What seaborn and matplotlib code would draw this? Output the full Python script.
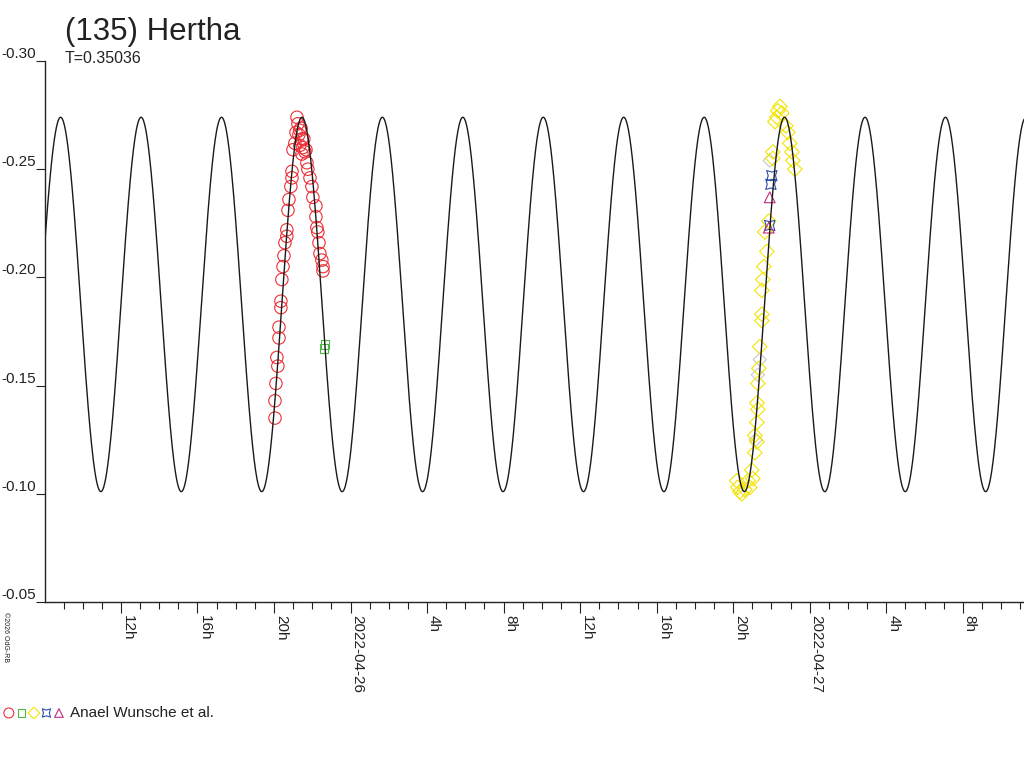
import numpy as np
import matplotlib
matplotlib.use('Agg')
import matplotlib.pyplot as plt
from matplotlib.legend_handler import HandlerTuple
from matplotlib.ticker import MultipleLocator
import seaborn as sns

# times in hours since 2022-04-25 00:00 UT, values = relative magnitude
red_t = [20.05, 20.05, 20.10, 20.20, 20.15, 20.26, 20.26, 20.36, 20.36, 20.41,
         20.47, 20.52, 20.57, 20.67, 20.67, 20.73, 20.78, 20.88, 20.94, 20.94,
         20.99, 21.09, 21.15, 21.20, 21.25, 21.30, 21.35, 21.41, 21.46, 21.35,
         21.51, 21.56, 21.62, 21.67, 21.46, 21.72, 21.77, 21.88, 21.98, 22.03,
         22.19, 22.19, 22.24, 22.29, 22.35, 22.40, 22.50, 22.56, 22.56]
red_mag = [-0.135, -0.143, -0.151, -0.159, -0.163, -0.172, -0.177, -0.186, -0.189, -0.199,
           -0.205, -0.210, -0.216, -0.219, -0.222, -0.231, -0.236, -0.242, -0.246, -0.249,
           -0.259, -0.262, -0.267, -0.274, -0.271, -0.266, -0.268, -0.269, -0.264, -0.261,
           -0.260, -0.264, -0.258, -0.259, -0.257, -0.253, -0.250, -0.246, -0.242, -0.237,
           -0.233, -0.228, -0.223, -0.221, -0.216, -0.211, -0.208, -0.205, -0.203]

green_t = [22.66, 22.61]
green_mag = [-0.169, -0.167]

yellow_t = [44.19, 44.24, 44.35, 44.45, 44.61, 44.77, 44.87, 45.03, 44.97, 45.13,
            45.24, 45.13, 45.24, 45.29, 45.24, 45.29, 45.34, 45.39, 45.50, 45.50,
            45.50, 45.55, 45.60, 45.76, 45.65, 45.86, 46.07, 46.07, 46.18, 46.28,
            46.33, 46.44, 46.54, 46.75, 46.86, 46.96, 47.07, 47.12, 47.22]
yellow_mag = [-0.106, -0.103, -0.101, -0.100, -0.102, -0.106, -0.103, -0.107, -0.111, -0.119,
              -0.124, -0.127, -0.133, -0.139, -0.142, -0.151, -0.158, -0.168, -0.180, -0.183,
              -0.194, -0.199, -0.205, -0.212, -0.221, -0.226, -0.255, -0.258, -0.272, -0.274,
              -0.277, -0.279, -0.276, -0.270, -0.267, -0.262, -0.258, -0.254, -0.250]

blue_t = [46.02, 45.97, 45.91]
blue_mag = [-0.247, -0.243, -0.224]

magenta_t = [45.91, 45.86]
magenta_mag = [-0.237, -0.223]

gray_t = [45.18, 45.29, 45.91, 45.39]
gray_mag = [-0.125, -0.155, -0.254, -0.162]

# model lightcurve parameters
period_days = 0.35036
t_max = 21.46          # hour of a maximum on 2022-04-25
mag_mean = -0.1875
mag_amp = 0.0865

x_range = (8.03, 59.2)
major_hours = [12, 16, 20, 24, 28, 32, 36, 40, 44, 48, 52, 56]
major_labels = ['12h', '16h', '20h', '2022-04-26', '4h', '8h',
                '12h', '16h', '20h', '2022-04-27', '4h', '8h']
y_ticks = [-0.30, -0.25, -0.20, -0.15, -0.10, -0.05]

sns.set_style('white')
plt.rcParams['font.family'] = ['Liberation Sans', 'DejaVu Sans']

fig = plt.figure(figsize=(10.24, 7.68), dpi=100)
ax = fig.add_axes([45 / 1024, 1 - 602 / 768, 1 - 45 / 1024, (602 - 61) / 768])

# model curve
t_model = np.linspace(x_range[0], x_range[1], 3000)
p_hours = period_days * 24
m_model = mag_mean - mag_amp * np.cos(4 * np.pi * (t_model - t_max) / p_hours)
sns.lineplot(x=t_model, y=m_model, color='#1a1a1a', linewidth=1.0, ax=ax)

def hollow(t, m, marker, color, size):
    sns.scatterplot(x=t, y=m, marker=marker, s=size, facecolor='none',
                    edgecolor=color, linewidth=0.8, legend=False, ax=ax)
    return ax.collections[-1]

h_gray = hollow(gray_t, gray_mag, 'D', '#c8c8c8', 45)
h_red = hollow(red_t, red_mag, 'o', '#ee2e36', 80)
h_green = hollow(green_t, green_mag, 's', '#4cb848', 40)
h_yellow = hollow(yellow_t, yellow_mag, 'D', '#f4e400', 55)
h_blue = hollow(blue_t, blue_mag, (4, 1, 45), '#2c4ea8', 110)
h_mag = hollow(magenta_t, magenta_mag, '^', '#c02a80', 60)

ax.set_xlim(*x_range)
ax.set_ylim(-0.05, -0.30)

ax.set_xticks(major_hours, major_labels, rotation=-90, ha='left', va='top', fontsize=11)
ax.xaxis.set_minor_locator(MultipleLocator(1))
ax.set_yticks(y_ticks, [f'{v:.2f}' for v in y_ticks], fontsize=11)
for lab in ax.get_yticklabels():
    lab.set_va('bottom')

ax.tick_params(axis='x', which='major', direction='out', length=8, width=0.8, pad=1.5,
               bottom=True, colors='#222222')
ax.tick_params(axis='x', which='minor', direction='out', length=5, width=0.8, bottom=True,
               color='#222222')
ax.tick_params(axis='y', direction='out', length=6.5, width=0.8, pad=0, left=True,
               colors='#222222')

for s in ['top', 'right']:
    ax.spines[s].set_visible(False)
for s in ['left', 'bottom']:
    ax.spines[s].set_color('#222222')
    ax.spines[s].set_linewidth(1.0)
ax.set_xlabel('')
ax.set_ylabel('')
ax.grid(False)

fig.text(65 / 1024, 1 - 40 / 768, '(135) Hertha', fontsize=22.5, color='#222222', va='baseline')
fig.text(65 / 1024, 1 - 63 / 768, 'T=0.35036', fontsize=11.5, color='#222222', va='baseline')
fig.text(2 / 1024, 1 - 612 / 768, '\u00a92026 OdG-RB', fontsize=5, rotation=-90,
         ha='left', va='top', color='#222222')

fig.legend(handles=[(h_red, h_green, h_yellow, h_blue, h_mag)],
           labels=['Anael Wunsche et al.'],
           handler_map={tuple: HandlerTuple(ndivide=None, pad=0.2)},
           loc='center left', bbox_to_anchor=(0.004, 1 - 713 / 768),
           frameon=False, handlelength=3.9, handletextpad=0.4, markerscale=0.8,
           borderaxespad=0, borderpad=0, fontsize=11, labelcolor='#222222')

fig.savefig('out.png', dpi=100)
